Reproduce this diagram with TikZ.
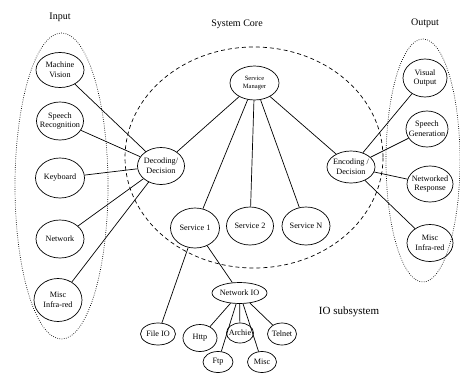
\documentclass[tikz,border=0pt]{standalone}
\usepackage{fontspec}
\setmainfont{Liberation Serif}
\usetikzlibrary{shapes.geometric}
\tikzset{
  nd/.style={ellipse, draw, line width=0.7pt, inner sep=0pt},
  txt/.style={font=\fontsize{8.2}{9.8}\selectfont, align=center, inner sep=0pt},
  smalltxt/.style={font=\fontsize{6.5}{8}\selectfont, align=center, inner sep=0pt},
  grp/.style={font=\fontsize{10}{12}\selectfont, inner sep=0pt},
  edge/.style={line width=0.7pt},
  coreline/.style={line width=0.7pt, dash pattern=on 4pt off 3pt},
  dotline/.style={line width=0.7pt, dash pattern=on 0.7pt off 1.5pt}
}
\begin{document}
\begin{tikzpicture}[x=1pt,y=-1pt]
\useasboundingbox (0,0) rectangle (460,372);
% group outlines
\draw[dotline] (61.5,186) ellipse [x radius=46.5, y radius=153];
\draw[dotline] (423,160.5) ellipse [x radius=37, y radius=121.5];
\draw[coreline] (254,157.5) ellipse [x radius=129, y radius=110.5];
% group labels
\node[grp] (lin) at (60,17) {Input};
\node[grp] (lcore) at (237,24) {System Core};
\node[grp] (lout) at (425,23) {Output};
\node[grp, font=\fontsize{11}{13}\selectfont] (lio) at (349,312) {IO subsystem};
% input nodes
\node[nd, minimum width=48, minimum height=35, label={[txt]center:Machine\\Vision}] (mv) at (60,70) {};
\node[nd, minimum width=47, minimum height=38, label={[txt]center:Speech\\Recognition}] (sr) at (60,121) {};
\node[nd, minimum width=49, minimum height=40, label={[txt]center:Keyboard}] (kb) at (60,178) {};
\node[nd, minimum width=48, minimum height=38, label={[txt]center:Network}] (nw) at (60,239) {};
\node[nd, minimum width=48, minimum height=43, label={[txt]center:Misc\\Infra-red}] (mi) at (58,300) {};
% core nodes
\node[nd, minimum width=47, minimum height=37, label={[txt]center:Decoding/\\Decision}] (dec) at (161,166) {};
\node[nd, minimum width=49, minimum height=34, label={[smalltxt]center:Service\\Manager}] (sm) at (254.5,83) {};
\node[nd, minimum width=49, minimum height=40, label={[txt]center:Service 1}] (s1) at (195,228) {};
\node[nd, minimum width=47, minimum height=38, label={[txt]center:Service 2}] (s2) at (250,226) {};
\node[nd, minimum width=48, minimum height=38, label={[txt]center:Service N}] (sn) at (306,226) {};
\node[nd, minimum width=48, minimum height=32, label={[txt]center:Encoding /\\Decision}] (enc) at (351,167) {};
% output nodes
\node[nd, minimum width=44, minimum height=38, label={[txt]center:Visual\\Output}] (vo) at (425,78) {};
\node[nd, minimum width=42, minimum height=36, label={[txt]center:Speech\\Generation}] (sg) at (427,129) {};
\node[nd, minimum width=46, minimum height=36, label={[txt]center:Networked\\Response}] (nr) at (430,184) {};
\node[nd, minimum width=46, minimum height=37, label={[txt]center:Misc\\Infra-red}] (om) at (430,243) {};
% IO nodes
\node[nd, minimum width=55, minimum height=21, label={[txt]center:Network IO}] (nio) at (239.5,293) {};
\node[nd, minimum width=35, minimum height=22, label={[txt]center:File IO}] (fio) at (158,334) {};
\node[nd, minimum width=34, minimum height=27, label={[txt]center:Http}] (http) at (200,338) {};
\node[nd, minimum width=27, minimum height=20, label={[txt]center:Archie}] (arc) at (240,333) {};
\node[nd, minimum width=29, minimum height=22, label={[txt]center:Telnet}] (tel) at (282,334) {};
\node[nd, minimum width=30, minimum height=21, label={[txt]center:Ftp}] (ftp) at (218,362) {};
\node[nd, minimum width=29, minimum height=21, label={[txt]center:Misc}] (msc) at (262,362) {};
% connectors
\foreach \n in {mv,sr,kb,nw,mi} \draw[edge] (\n) -- (dec);
\draw[edge] (dec) -- (sm);
\foreach \n in {s1,s2,sn,enc} \draw[edge] (sm) -- (\n);
\foreach \n in {vo,sg,nr,om} \draw[edge] (enc) -- (\n);
\draw[edge] (s1) -- (fio);
\draw[edge] (s1) -- (nio);
\foreach \n in {http,arc,tel,ftp,msc} \draw[edge] (nio) -- (\n);
\end{tikzpicture}
\end{document}
